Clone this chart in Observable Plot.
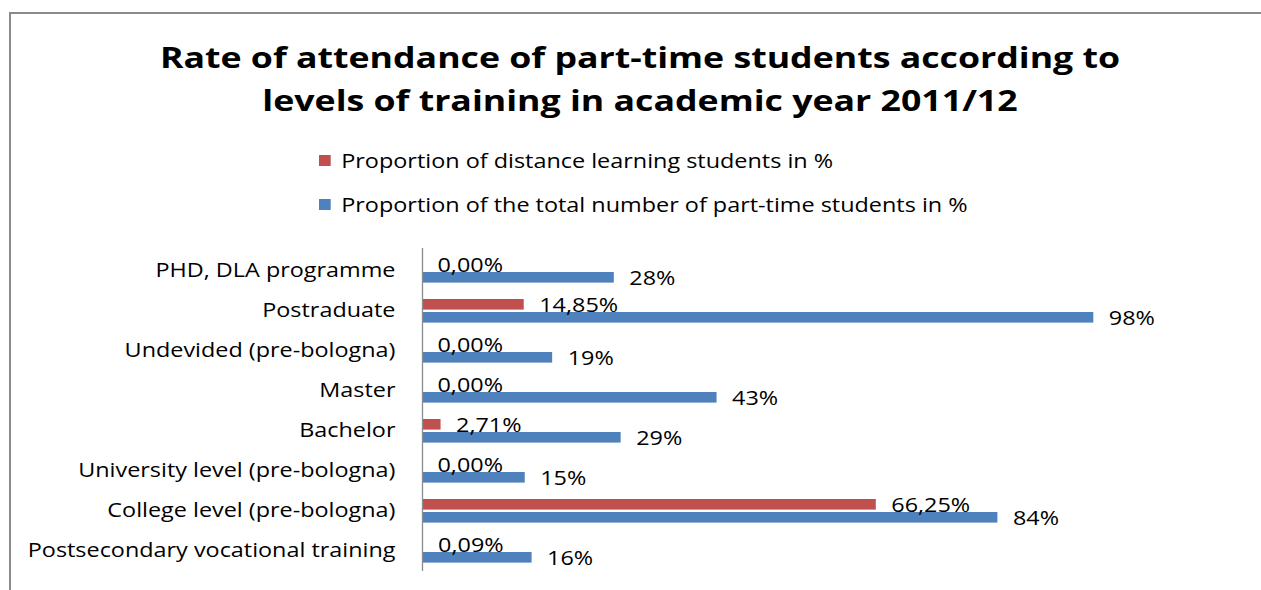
<!DOCTYPE html>
<html><head><meta charset="utf-8">
<script src="https://cdn.jsdelivr.net/npm/d3@7"></script>
<script src="https://cdn.jsdelivr.net/npm/@observablehq/plot@0.6"></script>
<style>
body{margin:0;width:1261px;height:590px;overflow:hidden;background:#fff;font-family:"Open Sans",sans-serif;position:relative;color:#000}
#frame{position:absolute;left:9px;top:12px;width:1400px;height:700px;border:2px solid #8a8a8a;box-sizing:border-box}
#title{position:absolute;left:0;width:1280px;top:35px;text-align:center;font-weight:bold;font-size:29px;line-height:43px;transform:scaleX(1.23);transform-origin:640px 0}
.leg{position:absolute;left:319px;font-size:20px;line-height:24px;white-space:nowrap;transform:scaleX(1.17);transform-origin:0 0}
.leg span.sw{display:inline-block;width:10px;height:11px;margin-right:9px;vertical-align:middle;position:relative;top:-2px}
#chart{position:absolute;left:0;top:0}
</style></head>
<body>
<div id="frame"></div>
<div id="title">Rate of attendance of part-time students according to<br>levels of training in academic year 2011/12</div>
<div id="legend"></div>
<div id="chart"></div>
<script>
const categories = ["PHD, DLA programme","Postraduate","Undevided (pre-bologna)","Master","Bachelor","University level (pre-bologna)","College level (pre-bologna)","Postsecondary vocational training"];
const seriesNames = ["Proportion of distance learning students in %","Proportion of the total number of part-time students in %"];
const seriesColors = ["#C0504D","#4F81BD"];
const distanceValues = [0, 14.85, 0, 0, 2.71, 0, 66.25, 0.09];
const distanceLabels = ["0,00%","14,85%","0,00%","0,00%","2,71%","0,00%","66,25%","0,09%"];
const totalValues = [28, 98, 19, 43, 29, 15, 84, 16];
const totalLabels = ["28%","98%","19%","43%","29%","15%","84%","16%"];

const distRows = categories.map((c,i)=>({cat:c, value:distanceValues[i], label:distanceLabels[i]}));
const totalRows = categories.map((c,i)=>({cat:c, value:totalValues[i], label:totalLabels[i]}));

// legend
const legend = document.getElementById("legend");
const legTops = [149, 193];
seriesNames.forEach((n,i)=>{
  const d = document.createElement("div");
  d.className = "leg";
  d.style.top = legTops[i] + "px";
  d.innerHTML = `<span class="sw" style="background:${seriesColors[i]}"></span>${n}`;
  legend.appendChild(d);
});

const chart = Plot.plot({
  width: 1261, height: 590,
  marginTop: 248, marginBottom: 19, marginLeft: 422, marginRight: 154,
  style: {fontFamily: "Open Sans", fontSize: "20px", background: "transparent", color: "#000"},
  x: {domain: [0, 100], axis: null},
  y: {domain: categories, padding: 0, axis: null},
  marks: [
    Plot.barX(distRows, {x: "value", y: "cat", fill: seriesColors[0], insetTop: 9, insetBottom: 20.4}),
    Plot.barX(totalRows, {x: "value", y: "cat", fill: seriesColors[1], insetTop: 22, insetBottom: 7.4}),
    Plot.ruleX([0], {stroke: "#8c8c8c", strokeWidth: 1.3}),
    Plot.axisY({domain: categories, tickSize: 0, tickPadding: 27, fontSize: 20, label: null, fill: "#000", dy: 0}),
    Plot.text(distRows, {x: "value", y: "cat", text: "label", textAnchor: "start", dx: 15, dy: -5, fill: "#000", fontSize: 20}),
    Plot.text(totalRows, {x: "value", y: "cat", text: "label", textAnchor: "start", dx: 15, dy: 8, fill: "#000", fontSize: 20})
  ]
});
// stretch glyphs horizontally around each text's anchor to match the reference's wide lettering
const sx = 1.17;
chart.querySelectorAll("text").forEach(t => {
  const x = +t.getAttribute("x") || 0;
  const tr = t.getAttribute("transform") || "";
  t.setAttribute("transform", `${tr} translate(${x},0) scale(${sx},1) translate(${-x},0)`);
});
document.getElementById("chart").appendChild(chart);
</script>
</body></html>
